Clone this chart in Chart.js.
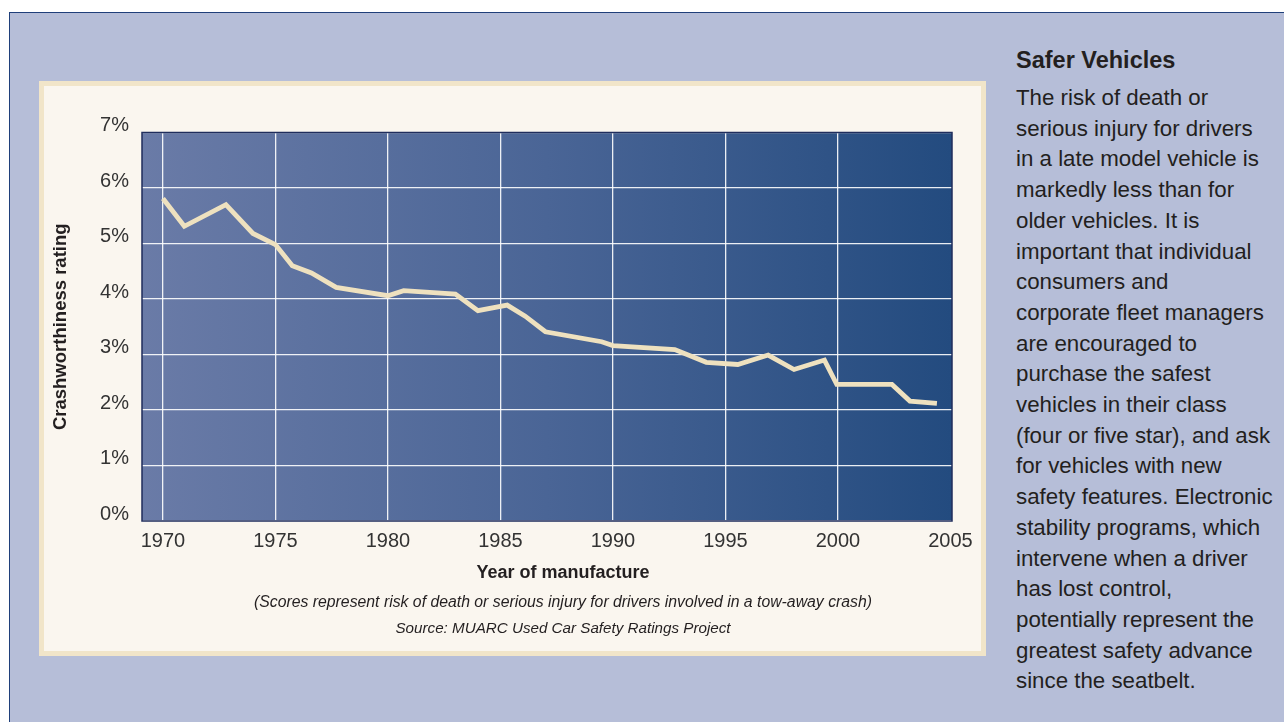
<!DOCTYPE html>
<html>
<head>
<meta charset="utf-8">
<script src="https://cdn.jsdelivr.net/npm/chart.js@4"></script>
<style>
  body { margin: 0; width: 1284px; height: 722px; background: #fff; overflow: hidden; position: relative;
         font-family: "Liberation Sans", Arial, sans-serif; }
  #frame { position: absolute; left: 9px; top: 12px; width: 1290px; height: 720px;
           background: #b6bed8; border: 1px solid #1f3f7a; }
  #box { position: absolute; left: 39px; top: 81px; width: 937px; height: 565px;
         background: #faf6ef; border: 5px solid #f1e5c9; }
  #chart { position: absolute; left: 44px; top: 86px; }
  .cap { position: absolute; left: 213px; width: 700px; text-align: center; color: #231f20; white-space: nowrap; }
  #xtitle { top: 561px; font-weight: bold; font-size: 18px; line-height: 22px; }
  #note { top: 593px; font-style: italic; font-size: 15.8px; line-height: 18px; }
  #src { top: 619px; font-style: italic; font-size: 15.2px; line-height: 18px; }
  #side { position: absolute; left: 1016px; top: 49px; color: #231f20; white-space: nowrap; }
  #side h2 { margin: 0; font-size: 23.5px; line-height: 23px; font-weight: bold; }
  #side p { position: absolute; top: 34px; left: 0; margin: 0; font-size: 22.3px; line-height: 30.7px; }
</style>
</head>
<body>
<div id="frame"></div>
<div id="box"></div>
<canvas id="chart" width="937" height="500"></canvas>
<div class="cap" id="xtitle">Year of manufacture</div>
<div class="cap" id="note">(Scores represent risk of death or serious injury for drivers involved in a tow-away crash)</div>
<div class="cap" id="src">Source: MUARC Used Car Safety Ratings Project</div>
<div id="side">
  <h2>Safer Vehicles</h2>
  <p>The risk of death or<br>serious injury for drivers<br>in a late model vehicle is<br>markedly less than for<br>older vehicles. It is<br>important that individual<br>consumers and<br>corporate fleet managers<br>are encouraged to<br>purchase the safest<br>vehicles in their class<br>(four or five star), and ask<br>for vehicles with new<br>safety features. Electronic<br>stability programs, which<br>intervene when a driver<br>has lost control,<br>potentially represent the<br>greatest safety advance<br>since the seatbelt.</p>
</div>
<script>
// values
var years = [1970, 1970.95, 1972.8, 1974.0, 1975.0, 1975.75, 1976.6, 1977.7, 1980.0, 1980.7,
             1983.0, 1984.0, 1985.3, 1986.1, 1987.0, 1989.5, 1990.0, 1992.75, 1994.15, 1995.55,
             1996.9, 1998.05, 1999.4, 1999.95, 2002.4, 2003.2, 2004.4];
var ratings = [5.81, 5.31, 5.70, 5.18, 4.98, 4.60, 4.47, 4.21, 4.06, 4.15,
               4.09, 3.79, 3.89, 3.69, 3.41, 3.23, 3.16, 3.09, 2.86, 2.82,
               2.99, 2.73, 2.90, 2.46, 2.46, 2.16, 2.12];
var yearTicks = [1970, 1975, 1980, 1985, 1990, 1995, 2000, 2005];
var ratingTicks = [0, 1, 2, 3, 4, 5, 6, 7];

var points = years.map(function (y, i) { return { x: y, y: ratings[i] }; });

// blue gradient behind the plot and the dark frame round it
var plotBack = {
  id: 'plotBack',
  beforeDraw: function (chart) {
    var a = chart.chartArea, ctx = chart.ctx;
    var g = ctx.createLinearGradient(a.left, 0, a.right, 0);
    g.addColorStop(0, '#6a7ba7');
    g.addColorStop(0.5, '#4a6596');
    g.addColorStop(1, '#234b7f');
    ctx.save();
    ctx.fillStyle = g;
    ctx.fillRect(a.left, a.top, a.right - a.left, a.bottom - a.top);
    ctx.restore();
  },
  afterDraw: function (chart) {
    var a = chart.chartArea, ctx = chart.ctx;
    ctx.save();
    ctx.strokeStyle = '#1f2d5c';
    ctx.lineWidth = 1.5;
    ctx.strokeRect(a.left, a.top, a.right - a.left, a.bottom - a.top);
    ctx.restore();
  }
};

new Chart(document.getElementById('chart'), {
  type: 'line',
  data: {
    datasets: [{
      data: points,
      borderColor: '#eee1bf',
      borderWidth: 4.8,
      borderJoinStyle: 'miter',
      pointRadius: 0,
      tension: 0,
      fill: false
    }]
  },
  plugins: [plotBack],
  options: {
    responsive: false,
    animation: false,
    layout: { padding: { top: 46.5, right: 29, left: 0, bottom: 0 } },
    plugins: { legend: { display: false }, tooltip: { enabled: false } },
    scales: {
      x: {
        type: 'linear',
        min: 1969.07,
        max: 2005.07,
        afterBuildTicks: function (s) { s.ticks = yearTicks.map(function (v) { return { value: v }; }); },
        afterFit: function (s) { s.height = 65; },
        ticks: {
          padding: 8,
          color: '#333',
          font: { family: 'Liberation Sans', size: 20 },
          callback: function (v) { return String(v); }
        },
        grid: {
          drawTicks: false,
          color: function (c) { return c.tick && c.tick.value === 2005 ? 'rgba(0,0,0,0)' : 'rgba(255,255,255,0.9)'; },
          lineWidth: 1.3
        },
        border: { display: false }
      },
      y: {
        min: 0,
        max: 7,
        afterBuildTicks: function (s) { s.ticks = ratingTicks.map(function (v) { return { value: v }; }); },
        afterFit: function (s) { s.width = 98; },
        ticks: {
          padding: 13,
          labelOffset: -7,
          color: '#333',
          font: { family: 'Liberation Sans', size: 20 },
          callback: function (v) { return v + '%'; }
        },
        grid: { drawTicks: false, color: 'rgba(255,255,255,0.9)', lineWidth: 1.3 },
        border: { display: false },
        title: {
          display: true,
          text: 'Crashworthiness rating',
          color: '#231f20',
          font: { family: 'Liberation Sans', size: 18.5, weight: 'bold' },
          padding: { top: 5.5, bottom: 0 }
        }
      }
    }
  }
});
</script>
</body>
</html>
